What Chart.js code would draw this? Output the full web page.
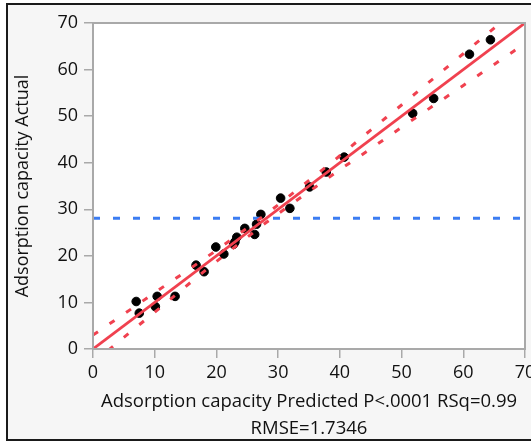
<!DOCTYPE html>
<html>
<head>
<meta charset="utf-8">
<script src="https://cdn.jsdelivr.net/npm/chart.js@4.4.1/dist/chart.umd.min.js"></script>
<style>
  html, body { margin: 0; padding: 0; background: #ffffff; width: 531px; height: 442px; overflow: hidden; }
  #frame { position: absolute; left: 6px; top: 3px; width: 560px; height: 434px;
           border: 2px solid #1a1a1a; border-right: none; background: #f6f6f6; }
  #wrap { position: absolute; left: 0; top: 0; width: 531px; height: 442px; }
</style>
</head>
<body>
<div id="frame"></div>
<div id="wrap"><canvas id="c" width="531" height="442"></canvas></div>
<script>
// Observations: predicted (x) vs actual (y)
const predicted = [7.0, 7.5, 10.1, 10.4, 13.3, 16.7, 18.0, 19.9, 21.2, 22.8, 23.0, 23.3, 24.6, 26.2, 26.5, 27.2, 30.4, 31.9, 35.1, 37.8, 40.7, 51.8, 55.2, 61.0, 64.4];
const actual    = [10.2, 7.7, 9.1, 11.3, 11.3, 18.0, 16.6, 21.9, 20.4, 22.5, 23.0, 24.0, 25.9, 24.6, 26.8, 28.9, 32.4, 30.2, 34.8, 38.0, 41.2, 50.6, 53.8, 63.3, 66.4];

// Fit line (actual = predicted)
const fitX = [0, 70];
const fitY = [0, 70];

// Confidence curves
const bandX     = [0, 5, 10, 15, 20, 25, 28, 31, 35, 40, 45, 50, 55, 60, 65, 70];
const bandUpper = [3.0, 7.5, 12.1, 16.6, 21.2, 26.0, 28.9, 32.0, 36.2, 41.5, 47.0, 52.4, 57.9, 63.4, 68.9, 74.4];
const bandLower = [-3.0, 2.5, 7.9, 13.4, 18.8, 24.0, 27.1, 30.0, 33.8, 38.5, 43.0, 47.6, 52.1, 56.6, 61.1, 65.6];

// Mean of actual (horizontal reference line)
const meanX = [0, 70];
const meanActual = 28.1;

// Axis ticks and titles
const xTicks = [0, 10, 20, 30, 40, 50, 60, 70];
const yTicks = [0, 10, 20, 30, 40, 50, 60, 70];
const xTitle = ["Adsorption capacity Predicted P<.0001 RSq=0.99", "RMSE=1.7346"];
const yTitle = "Adsorption capacity Actual";

const RED = '#f0414f';
const BLUE = '#3b7cf2';
const FONT = "'Open Sans', 'Noto Sans', sans-serif";
const TEXT = '#111111';
const AXIS = '#a9a9a9';

const zip = (xs, ys) => xs.map((x, i) => ({ x: x, y: ys[i] }));

const areaPlugin = {
  id: 'areaPlugin',
  beforeDraw(chart) {
    const { ctx, chartArea: a } = chart;
    ctx.save();
    ctx.fillStyle = '#ffffff';
    ctx.fillRect(a.left, a.top, a.right - a.left, a.bottom - a.top);
    ctx.restore();
  },
  afterDatasetsDraw(chart) {
    const { ctx, chartArea: a } = chart;
    ctx.save();
    ctx.strokeStyle = AXIS;
    ctx.lineWidth = 2;
    ctx.strokeRect(a.left, a.top, a.right - a.left, a.bottom - a.top);
    ctx.restore();
  }
};

new Chart(document.getElementById('c'), {
  type: 'scatter',
  data: {
    datasets: [
      {
        label: 'mean',
        type: 'line',
        data: zip(meanX, meanX.map(() => meanActual)),
        borderColor: BLUE, borderWidth: 3, borderDash: [7, 13],
        pointRadius: 0, fill: false, order: 5
      },
      {
        label: 'upper',
        type: 'line',
        data: zip(bandX, bandUpper),
        borderColor: RED, borderWidth: 3, borderDash: [6, 14],
        cubicInterpolationMode: 'monotone',
        pointRadius: 0, fill: false, order: 3
      },
      {
        label: 'lower',
        type: 'line',
        data: zip(bandX, bandLower),
        borderColor: RED, borderWidth: 3, borderDash: [6, 14],
        cubicInterpolationMode: 'monotone',
        pointRadius: 0, fill: false, order: 3
      },
      {
        label: 'fit',
        type: 'line',
        data: zip(fitX, fitY),
        borderColor: RED, borderWidth: 2.8,
        pointRadius: 0, fill: false, order: 2
      },
      {
        label: 'points',
        data: zip(predicted, actual),
        backgroundColor: '#000000', borderColor: '#000000',
        pointRadius: 4.3, pointHoverRadius: 4.3, showLine: false, order: 10
      }
    ]
  },
  options: {
    responsive: false,
    animation: false,
    devicePixelRatio: 1,
    layout: { padding: { top: 23, right: 6, left: 0, bottom: 0 } },
    plugins: { legend: { display: false }, tooltip: { enabled: false } },
    scales: {
      x: {
        type: 'linear', min: 0, max: 70,
        afterBuildTicks: s => { s.ticks = xTicks.map(v => ({ value: v })); },
        afterFit: s => { s.height = 93; s.paddingLeft = 0; s.paddingRight = 0; },
        ticks: { color: TEXT, font: { family: FONT, size: 18, lineHeight: 1.2 }, padding: 4.5, maxRotation: 0, autoSkip: false },
        grid: { display: true, drawOnChartArea: false, drawTicks: true, tickLength: 9, color: AXIS, lineWidth: 1.5 },
        border: { display: false },
        title: { display: true, text: xTitle, color: TEXT,
                 font: { family: FONT, size: 18.5, lineHeight: 1.44 }, padding: { top: 0, bottom: 0 } }
      },
      y: {
        type: 'linear', min: 0, max: 70,
        afterBuildTicks: s => { s.ticks = yTicks.map(v => ({ value: v })); },
        afterFit: s => { s.width = 93; s.paddingTop = 0; s.paddingBottom = 0; },
        ticks: { color: TEXT, font: { family: FONT, size: 18, lineHeight: 1.2 }, padding: 6, autoSkip: false },
        grid: { display: true, drawOnChartArea: false, drawTicks: true, tickLength: 9, color: AXIS, lineWidth: 1.5 },
        border: { display: false },
        title: { display: true, text: yTitle, color: TEXT,
                 font: { family: FONT, size: 18, lineHeight: 1.2 }, padding: { top: 12, bottom: 0 } }
      }
    }
  },
  plugins: [areaPlugin]
});
</script>
</body>
</html>
